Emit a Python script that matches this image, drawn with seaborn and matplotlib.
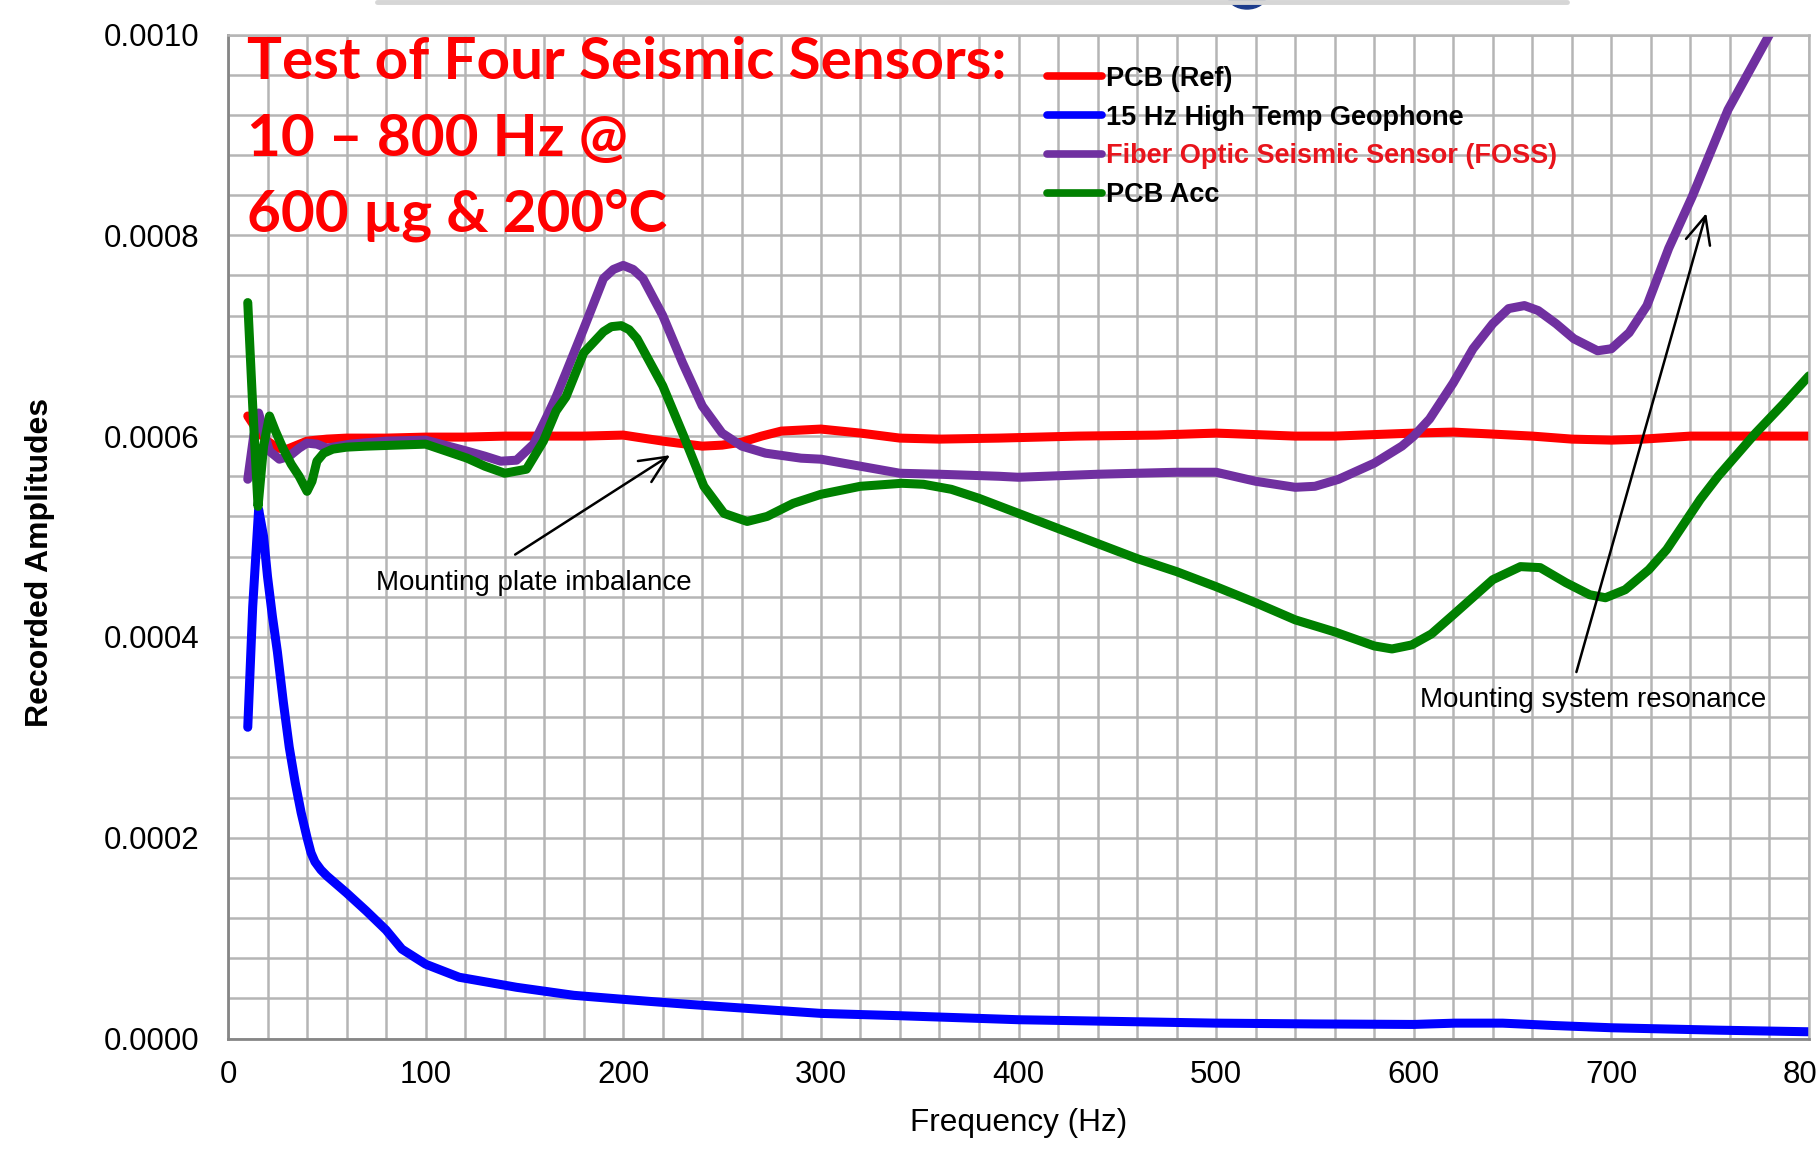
import numpy as np
import pandas as pd
import matplotlib
matplotlib.use("Agg")
import matplotlib.pyplot as plt
from matplotlib.ticker import MultipleLocator, FormatStrFormatter
from matplotlib.patches import Ellipse
from matplotlib.lines import Line2D
import seaborn as sns

# ---- Recorded amplitudes per sensor (frequency in Hz) ----
ref_freq = [10, 15, 20, 25, 30, 35, 40, 50, 60, 80, 100, 120, 140, 160, 180, 200,
            220, 240, 250, 260, 270, 280, 300, 320, 340, 360, 390, 430, 470, 500,
            540, 560, 600, 620, 640, 660, 680, 700, 716, 740, 770, 800]
ref_amp = [0.000620, 0.000605, 0.000595, 0.000588, 0.000587, 0.000591, 0.000595,
           0.000597, 0.000598, 0.000598, 0.000599, 0.000599, 0.000600, 0.000600,
           0.000600, 0.000601, 0.000595, 0.000590, 0.000591, 0.000594, 0.000600,
           0.000605, 0.000607, 0.000603, 0.000598, 0.000597, 0.000598, 0.000600,
           0.000601, 0.000603, 0.000600, 0.000600, 0.000603, 0.000604, 0.000602,
           0.000600, 0.000597, 0.000596, 0.000597, 0.000600, 0.000600, 0.000600]

geo_freq = [10, 12.5, 15.5, 18, 20, 22.5, 25, 28, 31, 34, 37, 40, 42, 44, 47, 50,
            60, 70, 80, 88, 100, 117, 146, 175, 200, 233, 270, 300, 340, 400, 450,
            500, 550, 600, 621, 645, 670, 700, 754, 800]
geo_amp = [0.000310, 0.000430, 0.000527, 0.000500, 0.000460, 0.000420, 0.000385,
           0.000335, 0.000290, 0.000255, 0.000225, 0.000200, 0.000185, 0.000176,
           0.000168, 0.000162, 0.000145, 0.000127, 0.000108, 0.000089, 0.000074,
           0.000061, 0.000051, 0.000043, 0.000039, 0.000034, 0.000029, 0.000025,
           0.0000227, 0.0000187, 0.0000170, 0.0000153, 0.0000145, 0.0000140,
           0.0000153, 0.0000153, 0.0000130, 0.0000107, 0.0000083, 0.0000067]

foss_freq = [10, 13, 15.5, 18, 21, 26, 31, 36, 40, 45, 50, 62, 80, 100, 121, 130,
             138, 146, 154.6, 161, 166, 171, 180, 190, 195, 200, 205, 210, 220, 230,
             240, 250, 260, 272, 290, 300, 320, 340, 360, 390, 400, 440, 480, 500,
             520, 540, 550, 562, 580, 594, 600, 608, 620, 630, 640, 648, 656, 663,
             672, 681, 693, 700, 709, 718, 729, 741, 759, 780, 800]
foss_amp = [0.000557, 0.000600, 0.000623, 0.000605, 0.000585, 0.000577, 0.000580,
            0.000588, 0.000593, 0.000592, 0.000588, 0.000592, 0.000595, 0.000596,
            0.000585, 0.000580, 0.000575, 0.000576, 0.000592, 0.000618, 0.000639,
            0.000663, 0.000707, 0.000757, 0.000766, 0.000770, 0.000766, 0.000757,
            0.000720, 0.000673, 0.000630, 0.000603, 0.000590, 0.000583, 0.000578,
            0.000577, 0.000570, 0.000563, 0.000562, 0.000560, 0.000559, 0.000562,
            0.000564, 0.000564, 0.000555, 0.000549, 0.000550, 0.000557, 0.000573,
            0.000590, 0.000600, 0.000617, 0.000653, 0.000687, 0.000712, 0.000727,
            0.000730, 0.000725, 0.000712, 0.000697, 0.000685, 0.000687, 0.000703,
            0.000730, 0.000787, 0.000839, 0.000925, 0.001000, 0.001080]

acc_freq = [10, 12.5, 15.2, 18, 21, 24, 28, 32, 36, 40, 42.5, 45, 48.4, 53, 60, 70,
            85, 100, 121, 130, 140, 151, 159.6, 166, 171, 180, 190, 194, 199, 203,
            207, 220, 230.6, 240.8, 251, 262.7, 272.8, 286, 300, 320, 341, 352, 366,
            380, 400, 420, 440, 460, 480, 500, 520, 540, 560, 580, 589, 599, 609,
            620, 640, 654, 664, 677, 689, 697, 707, 719, 728, 745, 754, 773, 787, 800]
acc_amp = [0.000733, 0.000630, 0.000530, 0.000590, 0.000620, 0.000605, 0.000587,
           0.000572, 0.000560, 0.000545, 0.000555, 0.000575, 0.000583, 0.000587,
           0.000589, 0.000590, 0.000591, 0.000592, 0.000578, 0.000570, 0.000563,
           0.000567, 0.000595, 0.000625, 0.000639, 0.000683, 0.000704, 0.000709,
           0.000710, 0.000706, 0.000697, 0.000650, 0.000600, 0.000550, 0.000523,
           0.000515, 0.000520, 0.000533, 0.000542, 0.000550, 0.000553, 0.000552,
           0.000547, 0.000538, 0.000523, 0.000508, 0.000493, 0.000478, 0.000465,
           0.000450, 0.000434, 0.000417, 0.000405, 0.000391, 0.000388, 0.000392,
           0.000403, 0.000422, 0.000457, 0.000470, 0.000469, 0.000454, 0.000442,
           0.000439, 0.000447, 0.000467, 0.000487, 0.000537, 0.000560, 0.000603,
           0.000632, 0.000660]

sensor_names = ["PCB (Ref)", "15 Hz High Temp Geophone",
                "Fiber Optic Seismic Sensor (FOSS)", "PCB Acc"]
sensor_colors = ["#ff0000", "#0000ff", "#7030a0", "#008000"]

title_lines = ["Test of Four Seismic Sensors:", "10 \u2013 800 Hz @", "600 \u00b5g & 200\u00b0C"]

# ---- Styling ----
sns.set_theme(style="white")
plt.rcParams["font.family"] = ["Liberation Sans", "DejaVu Sans"]

fig = plt.figure(figsize=(18.17, 11.52), dpi=100)
ax = fig.add_axes([228 / 1817, 1 - 1038.5 / 1152, 1581 / 1817, 1004 / 1152])

frames = []
for name, fr, amp in zip(sensor_names,
                         [ref_freq, geo_freq, foss_freq, acc_freq],
                         [ref_amp, geo_amp, foss_amp, acc_amp]):
    frames.append(pd.DataFrame({"freq": fr, "amp": amp, "sensor": name}))
data = pd.concat(frames, ignore_index=True)

for name, color in zip(sensor_names, sensor_colors):
    sub = data[data["sensor"] == name]
    sns.lineplot(data=sub, x="freq", y="amp", color=color, linewidth=6.5,
                 label=name, estimator=None, ax=ax,
                 solid_capstyle="round", solid_joinstyle="round")

ax.set_xlim(0, 800)
ax.set_ylim(0, 0.001)
ax.xaxis.set_major_locator(MultipleLocator(100))
ax.xaxis.set_minor_locator(MultipleLocator(20))
ax.yaxis.set_major_locator(MultipleLocator(0.0002))
ax.yaxis.set_minor_locator(MultipleLocator(0.00004))
ax.yaxis.set_major_formatter(FormatStrFormatter("%.4f"))

grid_color = "#b5b5b5"
ax.set_axisbelow(True)
ax.grid(True, which="both", color=grid_color, linewidth=1.8)
ax.tick_params(axis="both", which="major", direction="out", length=6.5, width=1.5,
               color="#868686", labelsize=22.5, labelcolor="black")
ax.tick_params(axis="x", which="major", pad=9)
ax.tick_params(axis="y", which="major", pad=14)
ax.tick_params(which="minor", length=0)

for side in ["left", "bottom"]:
    ax.spines[side].set_color("#868686")
    ax.spines[side].set_linewidth(2.0)
for side in ["top", "right"]:
    ax.spines[side].set_color(grid_color)
    ax.spines[side].set_linewidth(1.8)

ax.set_xlabel("Frequency (Hz)", fontsize=22.7, color="black")
ax.xaxis.set_label_coords(0.5, -0.0838)
ax.xaxis.label.set_verticalalignment("center")
ax.set_ylabel("Recorded Amplitudes", fontsize=23, fontweight="bold", color="black")
ax.yaxis.set_label_coords(-0.119, 0.4746)
ax.yaxis.label.set_verticalalignment("center")

# Legend
leg = ax.legend(loc="upper left", bbox_to_anchor=(0.518, 0.9688), frameon=False,
                fontsize=19.5, handlelength=2.04, handletextpad=0.15,
                labelspacing=0.47, borderpad=0, borderaxespad=0)
for txt, name in zip(leg.get_texts(), sensor_names):
    txt.set_fontweight("bold")
    txt.set_color("#e8141c" if "FOSS" in name else "black")
for h in leg.get_lines():
    h.set_linewidth(5.5)

# Annotations
arrow_style = dict(arrowstyle="->,head_length=0.7,head_width=0.32", color="black",
                   lw=1.8, shrinkA=0, shrinkB=0, mutation_scale=28)
ax.annotate("", xy=(223.7, 0.000581), xytext=(145.3, 0.000482), arrowprops=arrow_style)
ax.text(154.9, 0.000454, "Mounting plate imbalance", ha="center", va="center",
        fontsize=20, color="black")
ax.annotate("", xy=(748, 0.000822), xytext=(682.3, 0.000365), arrowprops=arrow_style)
ax.text(691, 0.000337, "Mounting system resonance", ha="center", va="center",
        fontsize=20, color="black")

# Headline text
for line, base in zip(title_lines, [79, 156, 232]):
    fig.text(247 / 1817, 1 - base / 1152, line, ha="left", va="baseline",
             fontsize=42, fontweight="bold", color="#ff0000",
             family=["Lato", "DejaVu Sans"])

# Slide header remnants along the top edge
fig.add_artist(Line2D([377 / 1817, 1567 / 1817], [1 - 1.5 / 1152, 1 - 1.5 / 1152],
                      transform=fig.transFigure, color="#d6d6d6", linewidth=3.5))
fig.add_artist(Ellipse((1247 / 1817, 1 + 4 / 1152), 38 / 1817, 26 / 1152,
                       transform=fig.transFigure, color="#1c3c8c"))

fig.savefig("out.png", dpi=100)
